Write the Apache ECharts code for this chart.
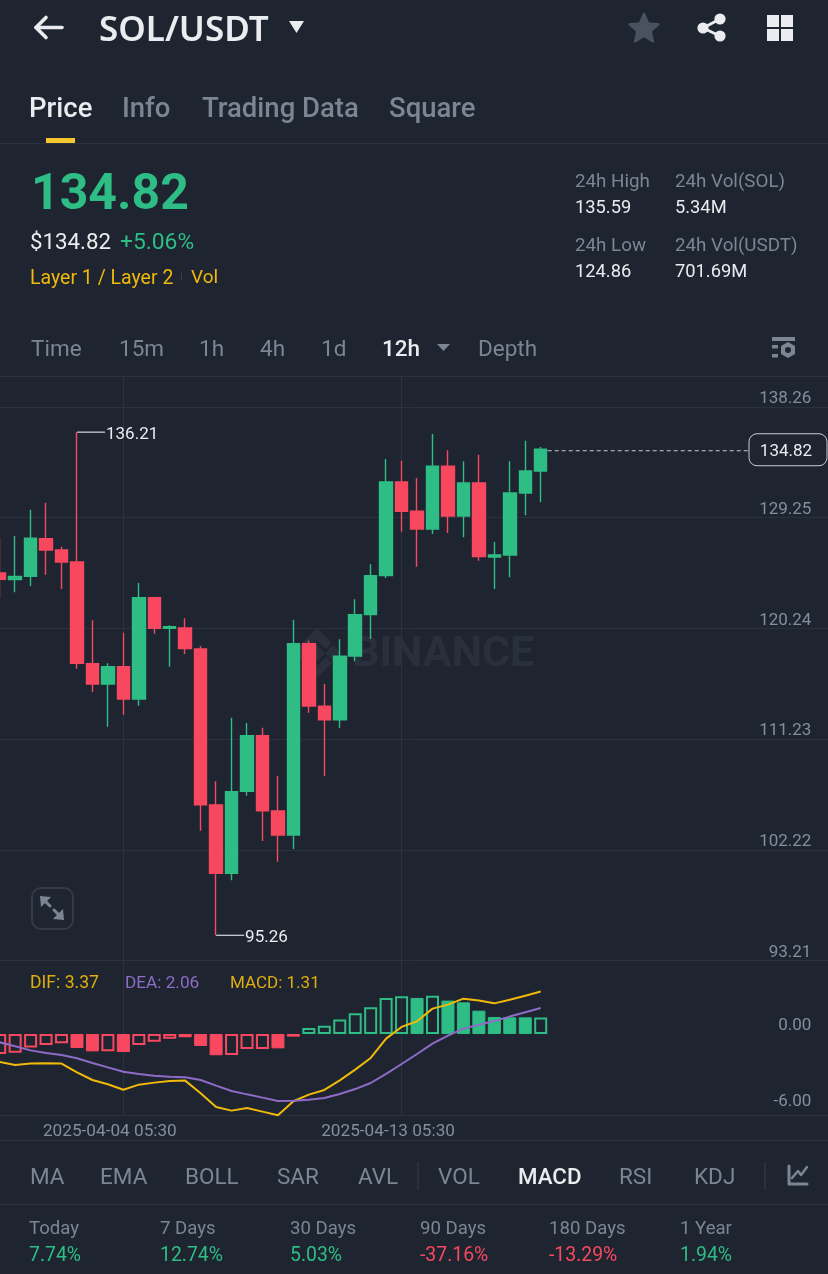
<!DOCTYPE html>
<html>
<head>
<meta charset="utf-8">
<style>html,body{margin:0;padding:0;background:#1e2530}#c{width:828px;height:1274px}</style>
<script src="https://cdn.jsdelivr.net/npm/echarts@6/dist/echarts.min.js"></script>
</head>
<body>
<div id="c"></div>
<script>
const dates = ['03-31 05:30','03-31 17:30','04-01 05:30','04-01 17:30','04-02 05:30','04-02 17:30','04-03 05:30','04-03 17:30','04-04 05:30','04-04 17:30','04-05 05:30','04-05 17:30','04-06 05:30','04-06 17:30','04-07 05:30','04-07 17:30','04-08 05:30','04-08 17:30','04-09 05:30','04-09 17:30','04-10 05:30','04-10 17:30','04-11 05:30','04-11 17:30','04-12 05:30','04-12 17:30','04-13 05:30','04-13 17:30','04-14 05:30','04-14 17:30','04-15 05:30','04-15 17:30','04-16 05:30','04-16 17:30','04-17 05:30','04-17 17:30'];
const labelledBars = [8, 26];
const opens  = [124.75,124.22,124.48,127.54,126.62,125.64,117.37,115.71,117.12,114.49,122.74,120.25,120.27,118.56,105.87,100.31,106.98,111.51,105.38,103.43,119.00,113.90,112.79,117.99,121.36,124.53,132.16,129.77,128.33,133.43,129.39,132.07,126.05,126.21,131.26,133.05];
const closes = [124.24,124.46,127.57,126.62,125.64,117.40,115.71,117.12,114.49,122.74,120.25,120.38,118.59,105.89,100.31,106.95,111.51,105.40,103.43,119.00,113.92,112.79,117.97,121.36,124.53,132.16,129.77,128.33,133.43,129.39,132.07,126.08,126.21,131.26,133.05,134.82];
const highs  = [127.60,127.76,129.90,130.47,126.89,136.21,120.90,117.40,119.89,123.94,122.82,120.49,121.06,118.81,107.80,112.97,112.54,112.16,108.23,120.95,119.24,115.71,119.35,122.61,125.46,134.03,133.89,132.48,136.06,134.74,133.84,134.38,127.27,133.84,135.52,135.00];
const lows   = [122.71,123.18,123.69,124.61,123.45,116.96,115.06,112.24,113.22,113.95,119.81,117.12,118.16,103.78,95.26,99.74,106.62,102.94,101.25,102.29,113.38,108.23,112.13,117.56,119.38,124.34,128.11,125.26,127.92,128.00,127.65,125.75,123.45,124.40,129.45,130.50];
const macdValues = [-1.59,-1.48,-1.08,-0.87,-0.74,-1.11,-1.38,-1.38,-1.43,-0.87,-0.61,-0.37,-0.26,-0.95,-1.69,-1.67,-1.19,-1.19,-1.14,-0.21,0.48,0.66,1.14,1.64,2.12,2.86,2.99,2.86,3.04,2.65,2.51,1.85,1.35,1.32,1.32,1.31];
const macdHollow = [1,1,1,1,1,0,0,1,0,1,1,1,1,0,0,1,1,1,0,0,1,1,1,1,1,1,1,0,1,0,0,0,0,0,0,1];
const difValues = [-2.22,-2.46,-2.35,-2.33,-2.35,-3.04,-3.65,-3.99,-4.42,-4.02,-3.86,-3.73,-3.70,-4.71,-5.79,-6.08,-5.87,-6.16,-6.45,-5.34,-4.81,-4.44,-3.68,-2.83,-1.90,-0.37,0.56,1.01,2.01,2.33,2.80,2.65,2.43,2.72,3.04,3.37];
const deaValues = [-0.66,-0.98,-1.30,-1.51,-1.67,-1.93,-2.30,-2.65,-2.99,-3.17,-3.31,-3.39,-3.44,-3.65,-4.10,-4.52,-4.79,-5.05,-5.32,-5.29,-5.21,-5.08,-4.76,-4.37,-3.89,-3.17,-2.38,-1.59,-0.77,-0.13,0.42,0.74,1.03,1.38,1.72,2.06];
const priceTicks = [93.21,102.22,111.23,120.24,129.25,138.26];
const macdTicks = [-6,0];
const extremes = [[5,136.21],[14,95.26]];
const lastPrice = [35,134.82];

const BG='#1e2530', GRID='#2c323d', GREEN='#2ebd85', RED='#f8485f', YELLOW='#f0b90b', PURPLE='#8f6bc8', MUTED='#7d8593', WHITE='#eaecef', AXIS='#848e9c';
const FONT='Roboto';
const slots = 55;
const categories = [];
for (let i=0;i<slots;i++) categories.push(i<dates.length ? '2025-'+dates[i] : '');

const g=[];
function T(x,y,text,size,fill,weight,font){g.push({type:'text',x:x,y:y+size*0.09,z:10,style:{text:text,fontSize:size,fill:fill,fontWeight:weight||400,fontFamily:font||FONT,verticalAlign:'middle',align:'left'}});}
function L(x1,y1,x2,y2,c,w){g.push({type:'line',z:1,shape:{x1,y1,x2,y2},style:{stroke:c,lineWidth:w||1}});}
function P(pts,c){g.push({type:'polygon',z:10,shape:{points:pts},style:{fill:c}});}
function PL(pts,c,w){g.push({type:'polyline',z:10,shape:{points:pts},style:{stroke:c,lineWidth:w,fill:'none',lineCap:'round',lineJoin:'round'}});}
function R(x,y,w,h,c){g.push({type:'rect',z:10,shape:{x,y,width:w,height:h},style:{fill:c}});}

// header
PL([[62,27.5],[36,27.5]],WHITE,3.6);PL([[46,17.5],[36,27.5],[46,37.5]],WHITE,3.6);
T(99,28,'SOL/USDT',35,WHITE,600,'Noto Sans');
P([[289,21],[304,21],[296.5,33]],WHITE);
const star=[];for(let i=0;i<10;i++){const r=i%2?7.2:15.5,a=-Math.PI/2+i*Math.PI/5;star.push([644+r*Math.cos(a),29+r*Math.sin(a)]);}
g.push({type:'polygon',z:10,shape:{points:star},style:{fill:'#4a5160',stroke:'#4a5160',lineWidth:2,lineJoin:'round'}});
PL([[720,19],[703,28],[720,36]],WHITE,3);
[[720,19],[703,28],[720,36]].forEach(p=>g.push({type:'circle',z:10,shape:{cx:p[0],cy:p[1],r:5.6},style:{fill:WHITE}}));
R(767,15,12,12,WHITE);R(781,15,12,12,WHITE);R(767,29,12,12,WHITE);R(781,29,12,12,WHITE);
// tabs
T(29,108,'Price',27.5,WHITE,500);T(122,108,'Info',27.5,MUTED,500);T(202,108,'Trading Data',27.5,MUTED,500);T(389,108,'Square',27.5,MUTED,500);
R(46,138,29,5,'#f7c62f');L(0,143.5,828,143.5,GRID);
// price block
T(31,192,'134.82',50,GREEN,700);
T(30,241,'$134.82',22.3,WHITE);T(120,241,'+5.06%',22.8,GREEN);
T(30,277,'Layer 1 / Layer 2',19.5,'#f0b90b');R(181,273,1,7,'#3a404b');T(191,277,'Vol',19,'#f0b90b');
[[575,181,'24h High',MUTED],[575,207,'135.59',WHITE],[575,245,'24h Low',MUTED],[575,271,'124.86',WHITE],[675,181,'24h Vol(SOL)',MUTED],[675,207,'5.34M',WHITE],[675,245,'24h Vol(USDT)',MUTED],[675,271,'701.69M',WHITE]].forEach(a=>T(a[0],a[1],a[2],a[3]===MUTED?18.8:18.3,a[3]));
// periods
[[31,'Time'],[119,'15m'],[199,'1h'],[260,'4h'],[321,'1d'],[478,'Depth']].forEach(a=>T(a[0],348,a[1],22.5,MUTED));
T(382,348,'12h',22.5,WHITE,500);P([[437,344],[450,344],[443.5,351]],MUTED);
R(772,337,23,4,MUTED);R(772,345,6,3.5,MUTED);R(772,354,6,3.5,MUTED);
g.push({type:'polygon',z:10,shape:{points:[[788,342],[795,346],[795,354],[788,358],[781,354],[781,346]]},style:{fill:MUTED}});
g.push({type:'circle',z:10,shape:{cx:788,cy:350,r:3},style:{fill:BG}});
L(0,376.5,828,376.5,GRID);
// watermark
const W='#2a303b';
g.push({type:'text',x:352,y:655,z:0,style:{text:'BINANCE',fontSize:43,fontWeight:700,fontFamily:FONT,fill:W,verticalAlign:'middle'}});
[[[317,628],[332,643],[326,649],[317,640],[308,649],[302,643]],[[317,678],[332,663],[326,657],[317,666],[308,657],[302,663]],[[301,645],[309,653],[301,661],[293,653]],[[333,645],[341,653],[333,661],[325,653]],[[317,645],[325,653],[317,661],[309,653]]].forEach(p=>g.push({type:'polygon',z:0,shape:{points:p},style:{fill:W}}));
// expand button
g.push({type:'rect',z:10,shape:{x:32,y:888,width:41,height:41,r:9},style:{fill:'none',stroke:'#343a46',lineWidth:2}});
P([[40,896],[51,897],[41,907]],MUTED);P([[64,920],[53,919],[63,909]],MUTED);PL([[44,900],[50,906]],MUTED,3);PL([[54,910],[60,916]],MUTED,3);
// MACD legend
T(30,982,'DIF: 3.37',17.6,'#e0ad10');T(125,982,'DEA: 2.06',17.2,PURPLE);T(230,982,'MACD: 1.31',17,'#e0ad10');
L(0,1140.5,828,1140.5,GRID);
// indicators
[[30,'MA'],[100,'EMA'],[185,'BOLL'],[277,'SAR'],[358,'AVL'],[438,'VOL'],[619,'RSI'],[694,'KDJ']].forEach(a=>T(a[0],1176,a[1],22.5,MUTED));
T(518,1176,'MACD',22.3,WHITE,500);
L(418,1162,418,1190,'#3a404b');L(765,1162,765,1190,'#3a404b');
PL([[789,1166],[789,1184],[807,1184]],MUTED,3);PL([[792,1178],[798,1171],[801,1175],[807,1167]],MUTED,2.5);
L(0,1204.5,828,1204.5,GRID);
[[29,'Today','7.74%',GREEN],[160,'7 Days','12.74%',GREEN],[290,'30 Days','5.03%',GREEN],[420,'90 Days','-37.16%',RED],[549,'180 Days','-13.29%',RED],[680,'1 Year','1.94%',GREEN]].forEach(a=>{T(a[0],1228,a[1],18.6,MUTED);T(a[0],1254,a[2],19.4,a[3]);});

const isLabelled=i=>labelledBars.includes(i);
function xAxis(gridIndex,showLabel){return {type:'category',gridIndex,data:categories,boundaryGap:false,
  axisLine:{show:showLabel,onZero:false,lineStyle:{color:GRID,width:1}},axisTick:{show:false},
  splitLine:{show:true,interval:isLabelled,lineStyle:{color:GRID,width:1}},
  axisLabel:{show:showLabel,interval:isLabelled,hideOverlap:false,color:AXIS,fontSize:17.2,fontFamily:FONT,margin:7.5,padding:[0,27,0,0]}};}
function yAxis(gridIndex,min,max,ticks,split,fmt){return {type:'value',gridIndex,min,max,position:'right',scale:true,
  axisLine:{show:false},axisTick:{show:false,customValues:ticks},
  splitLine:{show:split,lineStyle:{color:GRID,width:1}},
  axisLabel:{inside:true,customValues:ticks,margin:23,color:AXIS,fontSize:17,fontFamily:FONT,verticalAlign:'bottom',lineHeight:16,formatter:fmt}};}

const chart=echarts.init(document.getElementById('c'),null,{renderer:'canvas'});
chart.setOption({
  animation:false,backgroundColor:BG,textStyle:{fontFamily:FONT},
  grid:[{left:-0.3,width:834.7,top:376.5,height:584,outerBoundsMode:'none'},{left:-0.3,width:834.7,top:960.5,height:154.9,outerBoundsMode:'none'}],
  xAxis:[xAxis(0,false),xAxis(1,true)],
  yAxis:[yAxis(0,93.21,140.74,priceTicks,true,v=>v.toFixed(2)),yAxis(1,-6.46,5.83,macdTicks,false,v=>v.toFixed(2))],
  graphic:{elements:g},
  series:[
    {type:'candlestick',xAxisIndex:0,yAxisIndex:0,barWidth:13,clip:true,
      data:opens.map((o,i)=>[o,closes[i],lows[i],highs[i]]),
      itemStyle:{color:GREEN,color0:RED,borderColor:GREEN,borderColor0:RED,borderWidth:1.4}},
    {type:'custom',xAxisIndex:0,yAxisIndex:0,z:5,clip:false,silent:true,data:extremes,
      renderItem:(p,api)=>{const c=api.coord([api.value(0),api.value(1)]);return {type:'group',children:[
        {type:'line',shape:{x1:c[0],y1:c[1],x2:c[0]+28,y2:c[1]},style:{stroke:'#c9ccd2',lineWidth:1.3}},
        {type:'text',style:{text:api.value(1).toFixed(2),x:c[0]+29,y:c[1]+2.5,fill:WHITE,fontSize:17,fontFamily:FONT,verticalAlign:'middle'}}]};}},
    {type:'custom',xAxisIndex:0,yAxisIndex:0,z:5,clip:false,silent:true,data:[lastPrice],
      renderItem:(p,api)=>{const c=api.coord([api.value(0),api.value(1)]);return {type:'group',children:[
        {type:'line',shape:{x1:c[0]+7,y1:c[1]+1.5,x2:749,y2:c[1]+1.5},style:{stroke:'#c9ccd2',lineWidth:1,lineDash:[4,3]}},
        {type:'rect',shape:{x:749,y:c[1]-15.5,width:78,height:32,r:8},style:{fill:BG,stroke:'#c9ccd2',lineWidth:1}},
        {type:'text',style:{text:api.value(1).toFixed(2),x:786,y:c[1]+3,fill:WHITE,fontSize:17,fontFamily:FONT,align:'center',verticalAlign:'middle'}}]};}},
    {type:'bar',xAxisIndex:1,yAxisIndex:1,barWidth:13,silent:true,
      data:macdValues.map((v,i)=>{const c=v>=0?GREEN:RED;return {value:v,itemStyle:macdHollow[i]?{color:'rgba(0,0,0,0)',borderColor:c,borderWidth:2}:{color:c,borderColor:c,borderWidth:1}};})},
    {type:'line',xAxisIndex:1,yAxisIndex:1,data:difValues,showSymbol:false,clip:false,silent:true,lineStyle:{color:YELLOW,width:2}},
    {type:'line',xAxisIndex:1,yAxisIndex:1,data:deaValues,showSymbol:false,clip:false,silent:true,lineStyle:{color:PURPLE,width:2}}
  ]
});
</script>
</body>
</html>
